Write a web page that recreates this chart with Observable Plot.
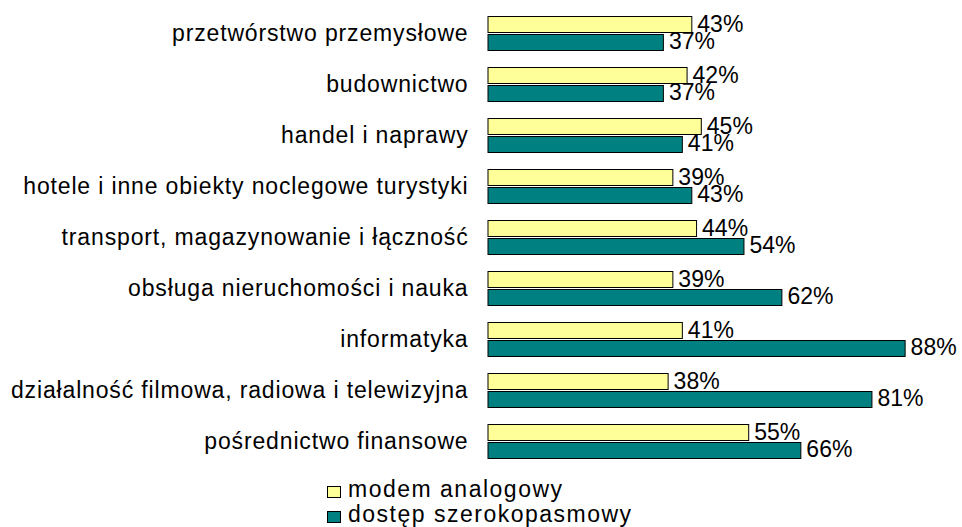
<!DOCTYPE html>
<html>
<head>
<meta charset="utf-8">
<script src="https://cdn.jsdelivr.net/npm/d3@7"></script>
<script src="https://cdn.jsdelivr.net/npm/@observablehq/plot@0.6"></script>
<style>
  body { margin: 0; background: #fff; font-family: "Liberation Sans", Arial, sans-serif; }
  #legend { margin-left: 327px; margin-top: 6px; font-size: 23px; line-height: 25px; color: #000; letter-spacing: 1.5px; }
  .item { display: flex; align-items: center; }
  .sw { width: 12px; height: 10px; border: 1px solid #000; margin-right: 7px; position: relative; top: 2px; }
  g[aria-label="y-axis tick label"] text { letter-spacing: 0.85px; }
</style>
</head>
<body>
<div id="chart"></div>
<div id="legend"></div>
<script>
const categories = [
  "przetwórstwo przemysłowe",
  "budownictwo",
  "handel i naprawy",
  "hotele i inne obiekty noclegowe turystyki",
  "transport, magazynowanie i łączność",
  "obsługa nieruchomości i nauka",
  "informatyka",
  "działalność filmowa, radiowa i telewizyjna",
  "pośrednictwo finansowe"
];
const seriesNames = ["modem analogowy", "dostęp szerokopasmowy"];
const modem = [43, 42, 45, 39, 44, 39, 41, 38, 55];
const broadband = [37, 37, 41, 43, 54, 62, 88, 81, 66];
const colors = ["#FFFF99", "#008080"];

const dataModem = categories.map((c, i) => ({category: c, value: modem[i]}));
const dataBroad = categories.map((c, i) => ({category: c, value: broadband[i]}));

const plot = Plot.plot({
  width: 962,
  height: 471,
  marginLeft: 488,
  marginRight: 0,
  marginTop: 8,
  marginBottom: 4,
  style: {fontFamily: "'Liberation Sans', Arial, sans-serif", fontSize: "23px", color: "#000", overflow: "visible"},
  x: {domain: [0, 100], axis: null},
  y: {domain: categories, padding: 0, axis: null},
  marks: [
    Plot.axisY({tickSize: 0, tickPadding: 20, fontSize: 23, label: null}),
    Plot.barX(dataModem, {x: "value", y: "category", fill: colors[0], stroke: "#000", strokeWidth: 1, insetTop: 8.5, insetBottom: 26.5}),
    Plot.barX(dataBroad, {x: "value", y: "category", fill: colors[1], stroke: "#000", strokeWidth: 1, insetTop: 26.5, insetBottom: 8.5}),
    Plot.text(dataModem, {x: "value", y: "category", text: d => d.value + "%", dx: 5, dy: -9, textAnchor: "start", fontSize: 23}),
    Plot.text(dataBroad, {x: "value", y: "category", text: d => d.value + "%", dx: 5, dy: 8, textAnchor: "start", fontSize: 23})
  ]
});
document.getElementById("chart").appendChild(plot);

const legend = document.getElementById("legend");
seriesNames.forEach((name, i) => {
  const item = document.createElement("div");
  item.className = "item";
  const sw = document.createElement("span");
  sw.className = "sw";
  sw.style.background = colors[i];
  const label = document.createElement("span");
  label.textContent = name;
  item.appendChild(sw);
  item.appendChild(label);
  legend.appendChild(item);
});
</script>
</body>
</html>
